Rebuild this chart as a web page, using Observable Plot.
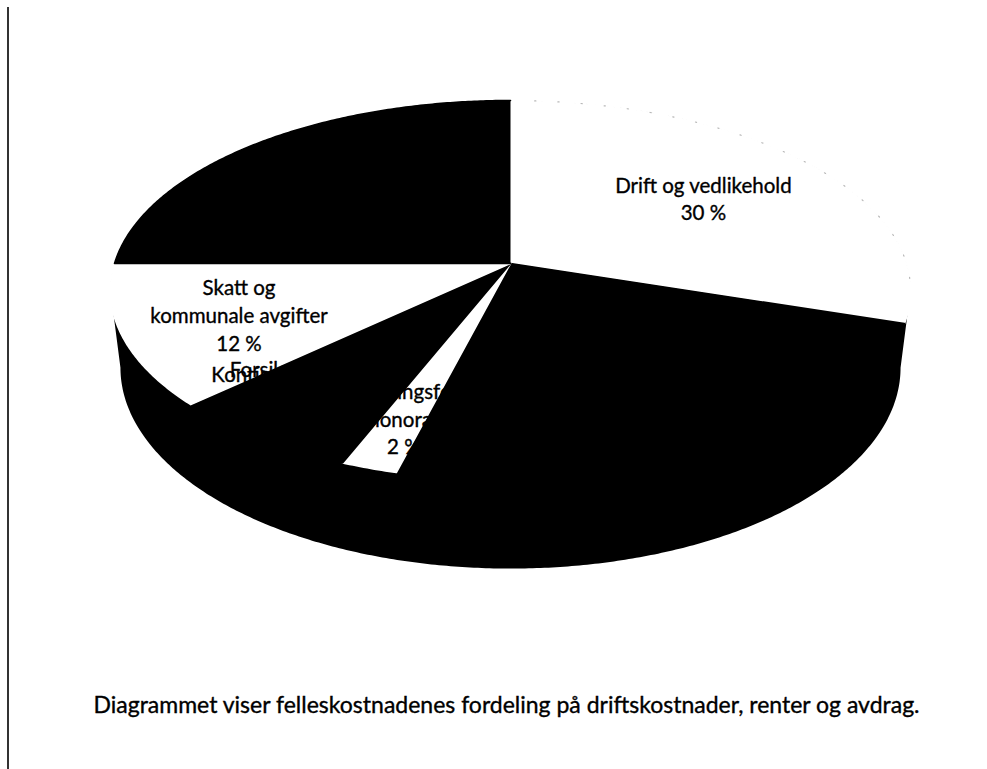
<!DOCTYPE html>
<html>
<head>
<meta charset="utf-8">
<script src="https://cdn.jsdelivr.net/npm/d3@7"></script>
<script src="https://cdn.jsdelivr.net/npm/@observablehq/plot@0.6"></script>
<style>
  html, body { margin: 0; padding: 0; background: #fff; }
  body { width: 987px; height: 769px; position: relative; overflow: hidden; font-family: Lato, "Liberation Sans", sans-serif; }
  #rule { position: absolute; left: 7px; top: 7px; bottom: 0; width: 2px; background: #333; }
  #chart { position: absolute; left: 0; top: 0; }
  #caption { position: absolute; left: 0; width: 1013px; top: 690px; text-align: center; font-size: 23px; line-height: 28px; color: #000; -webkit-text-stroke: 0.35px #000; }
</style>
</head>
<body>
<div id="rule"></div>
<div id="chart"></div>
<div id="caption"></div>
<script>
// ---- data ----
const categories = ["Drift og vedlikehold", "Renter", "Forretningsførerhonorar", "Forsikring", "Kontingent", "Skatt og kommunale avgifter", "Avdrag"];
const shares = [30, 24, 2, 4, 3, 12, 25];           // percent, clockwise from 12 o'clock
const labelTexts = ["Drift og vedlikehold", null, "Forretningsfører\nhonorar", "Forsikring", "Kontingent", "Skatt og\nkommunale avgifter", null];
const captionText = "Diagrammet viser felleskostnadenes fordeling på driftskostnader, renter og avdrag.";

// ---- styling / layout (not data) ----
const sliceColor = {"Drift og vedlikehold": "white", "Renter": "black", "Forretningsførerhonorar": "white",
  "Forsikring": "black", "Kontingent": "black", "Skatt og kommunale avgifter": "white", "Avdrag": "black"};
// label anchor: [fraction of full turn, relative radius]
const labelAnchor = {"Drift og vedlikehold": [null, 0.634], "Forretningsførerhonorar": [null, 0.78],
  "Forsikring": [0.62, 0.80], "Kontingent": [0.621, 0.835], "Skatt og kommunale avgifter": [null, 0.71]};

// perspective 3-D pie projection (unit pie)
const K = 0.142, TILT = 0.47, DEPTH = 0.191, BOTTOM_SCALE = 0.975;
function proj(phiDeg, r = 1, bottom = false) {
  const p = phiDeg * Math.PI / 180;
  const X = r * Math.sin(p), Y = r * Math.cos(p);
  const d = 1 + K * Y;
  if (!bottom) return {x: X / d, y: -TILT * Y / d};
  return {x: BOTTOM_SCALE * X / d, y: (-TILT * Y + DEPTH) / d};
}

// cumulative angles
const slices = [];
let acc = 0;
categories.forEach((c, i) => {
  const a0 = acc / 100 * 360, a1 = (acc + shares[i]) / 100 * 360;
  slices.push({name: c, share: shares[i], a0, a1, label: labelTexts[i]});
  acc += shares[i];
});

// silhouette (top back half + bottom front half)
const ext = Math.acos(-K) * 180 / Math.PI; // ~98.2 deg
const silhouette = [];
for (let a = -ext; a <= ext; a += 0.5) silhouette.push(proj(a));
silhouette.push(proj(ext));
for (let a = ext; a <= 360 - ext; a += 0.5) silhouette.push(proj(a, 1, true));
silhouette.push(proj(360 - ext, 1, true));

// top-face wedges
const wedgePts = [];
slices.forEach(s => {
  wedgePts.push({...proj(0, 0), key: s.name, color: sliceColor[s.name]});
  const n = Math.max(2, Math.ceil((s.a1 - s.a0) / 0.5));
  for (let j = 0; j <= n; j++) {
    const a = s.a0 + (s.a1 - s.a0) * j / n;
    wedgePts.push({...proj(a), key: s.name, color: sliceColor[s.name]});
  }
});

// faint dotted rim remnant on the first slice
const rim = [];
for (let a = 4; a <= 96; a += 0.5) rim.push(proj(a));

// labels
const labels = slices.filter(s => s.label).map(s => {
  const [f, r] = labelAnchor[s.name];
  const mid = f == null ? (s.a0 + s.a1) / 2 : f * 360;
  return {...proj(mid, r), text: s.label + "\n" + s.share + " %"};
});

const chart = Plot.plot({
  width: 987,
  height: 660,
  margin: 0,
  x: {domain: [-1, 1], range: [114, 906], axis: null},
  y: {domain: [-1, 1], range: [-133, 659], axis: null},
  marks: [
    Plot.line(silhouette, {x: "x", y: "y", fill: "black", stroke: "none", curve: "linear"}),
    Plot.line(wedgePts, {x: "x", y: "y", z: "key", fill: "color", stroke: "color", strokeWidth: 1.6, curve: "linear"}),
    Plot.line(rim, {x: "x", y: "y", stroke: "#b8b8b8", strokeWidth: 1.2, strokeDasharray: "1.2 22", curve: "linear"}),
    Plot.text(labels, {x: "x", y: "y", text: "text", fill: "black", stroke: "black", strokeWidth: 0.35,
      fontSize: 20.5, lineHeight: 1.35, fontFamily: "Lato, sans-serif", textAnchor: "middle"})
  ]
});
document.getElementById("chart").appendChild(chart);
document.getElementById("caption").textContent = captionText;
</script>
</body>
</html>
